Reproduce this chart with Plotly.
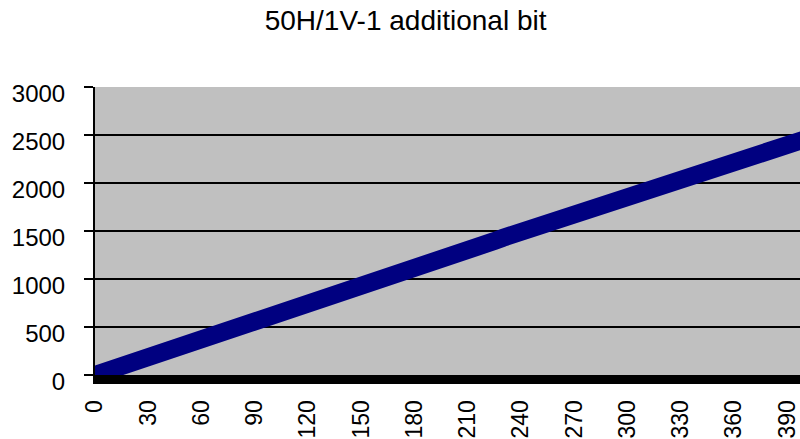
import plotly.graph_objects as go

# Data (x step 5)
x_vals = list(range(0, 405, 5))
y_vals = [0, 30, 60, 95, 125, 160, 190, 220, 250, 285,
          315, 345, 375, 405, 435, 465, 495, 525, 560, 590,
          615, 645, 680, 710, 740, 770, 805, 840, 870, 900,
          930, 960, 995, 1025, 1060, 1095, 1110, 1140, 1175, 1210,
          1240, 1270, 1300, 1330, 1365, 1395, 1430, 1460, 1490, 1525,
          1555, 1590, 1625, 1650, 1680, 1710, 1740, 1765, 1795, 1830,
          1860, 1890, 1925, 1955, 1985, 2015, 2045, 2075, 2105, 2135,
          2165, 2200, 2230, 2260, 2290, 2320, 2350, 2380, 2410, 2425,
          2455]
x_ticks = list(range(0, 391, 30))
y_ticks = [0, 500, 1000, 1500, 2000, 2500, 3000]
title_text = "50H/1V-1 additional bit"

FONT = "Liberation Sans, Arial, sans-serif"

fig = go.Figure()
fig.add_trace(go.Scatter(
    x=x_vals, y=y_vals, mode="lines",
    line=dict(color="#000080", width=18),
    showlegend=False,
))

fig.update_layout(
    width=800, height=439,
    margin=dict(l=95, r=0, t=87, b=64),
    paper_bgcolor="white",
    plot_bgcolor="#C0C0C0",
    title=dict(text=title_text, x=0.507, xref="container", xanchor="center",
               y=0.955, yref="container", yanchor="middle",
               font=dict(family=FONT, size=28, color="black")),
    font=dict(family=FONT, color="black"),
    xaxis=dict(
        range=[0, 397.3], tickvals=x_ticks, ticktext=[str(v) for v in x_ticks],
        tickangle=-90, showgrid=False, zeroline=False,
        showline=True, linecolor="black", linewidth=9,
        ticks="", ticklabelstandoff=7,
        tickfont=dict(family=FONT, size=23, color="black"),
    ),
    yaxis=dict(
        range=[0, 3000], tickvals=y_ticks,
        showgrid=True, gridcolor="black", gridwidth=2,
        zeroline=False,
        showline=True, linecolor="black", linewidth=2,
        ticks="outside", ticklen=9, tickwidth=2, tickcolor="black",
        ticklabelstandoff=14, ticklabelshift=7,
        tickfont=dict(family=FONT, size=24, color="black"),
    ),
)

fig.write_html("out.html")
